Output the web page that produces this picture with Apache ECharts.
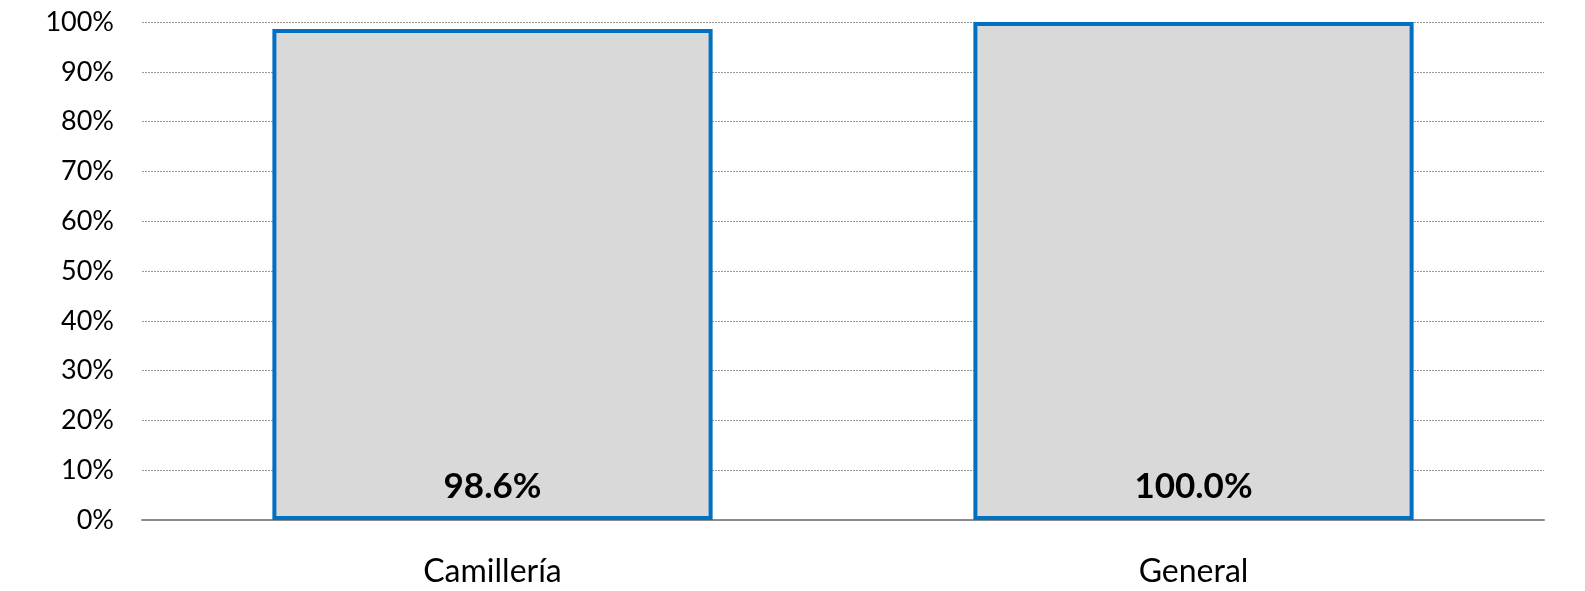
<!DOCTYPE html>
<html>
<head>
<meta charset="utf-8">
<script src="https://cdn.jsdelivr.net/npm/echarts@6/dist/echarts.min.js"></script>
<style>
html,body{margin:0;padding:0;background:#fff;}
#chart{width:1585px;height:591px;}
</style>
</head>
<body>
<div id="chart"></div>
<script>
const categories = ['Camillería', 'General'];
const values = [98.6, 100.0];
const yTicks = [0, 10, 20, 30, 40, 50, 60, 70, 80, 90, 100];

const FONT = 'Lato, "Open Sans", sans-serif';
const chart = echarts.init(document.getElementById('chart'));
chart.setOption({
  animation: false,
  grid: { left: 142, right: 41, top: 22, bottom: 71, containLabel: false },
  xAxis: {
    type: 'category',
    data: categories,
    axisLine: { show: true, lineStyle: { color: '#8c8c8c', width: 2 } },
    axisTick: { show: false },
    axisLabel: { color: '#000', fontSize: 32, fontFamily: FONT, margin: 36 }
  },
  yAxis: {
    type: 'value',
    min: yTicks[0],
    max: yTicks[yTicks.length - 1],
    interval: 10,
    axisLine: { show: false },
    axisTick: { show: false },
    axisLabel: { color: '#000', fontSize: 27, fontFamily: FONT, margin: 28, formatter: '{value}%' },
    splitLine: { show: true, lineStyle: { color: '#9a9a9a', type: [2, 1], width: 1 } }
  },
  series: [{
    type: 'bar',
    data: values,
    barWidth: '62.8%',
    itemStyle: { color: '#D9D9D9', borderColor: '#0070C0', borderWidth: 4 },
    label: {
      show: true,
      position: 'insideBottom',
      distance: 16,
      color: '#000',
      fontSize: 35,
      fontWeight: 'bold',
      fontFamily: FONT,
      formatter: p => p.value.toFixed(1) + '%'
    }
  }]
});
</script>
</body>
</html>
